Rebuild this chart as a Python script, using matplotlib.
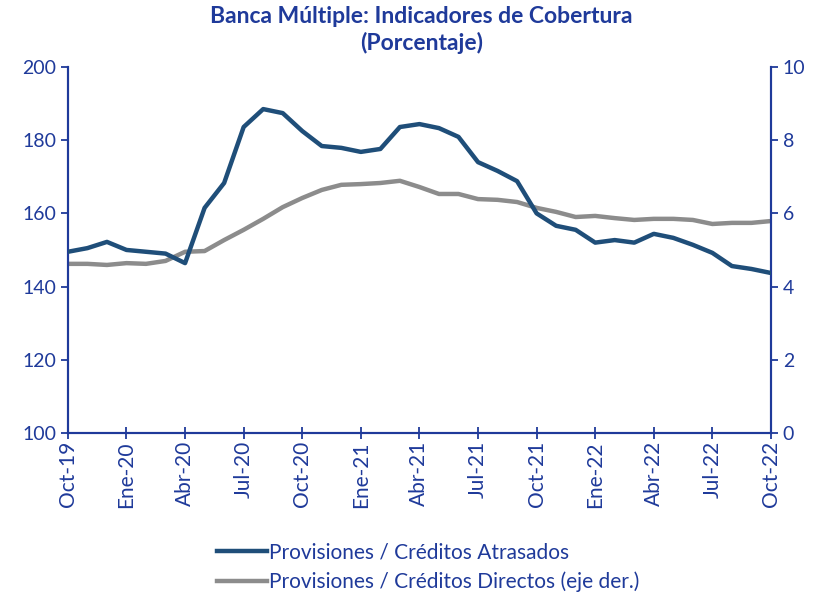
import numpy as np
import matplotlib.pyplot as plt

# monthly data Oct-19 .. Oct-22
months = ['Oct-19', 'Nov-19', 'Dic-19', 'Ene-20', 'Feb-20', 'Mar-20', 'Abr-20', 'May-20', 'Jun-20',
          'Jul-20', 'Ago-20', 'Sep-20', 'Oct-20', 'Nov-20', 'Dic-20', 'Ene-21', 'Feb-21', 'Mar-21',
          'Abr-21', 'May-21', 'Jun-21', 'Jul-21', 'Ago-21', 'Sep-21', 'Oct-21', 'Nov-21', 'Dic-21',
          'Ene-22', 'Feb-22', 'Mar-22', 'Abr-22', 'May-22', 'Jun-22', 'Jul-22', 'Ago-22', 'Sep-22',
          'Oct-22']
atrasados = [149.5, 150.5, 152.2, 150.0, 149.5, 149.0, 146.4, 161.5, 168.3, 183.6, 188.5, 187.4,
             182.5, 178.4, 177.9, 176.8, 177.6, 183.6, 184.4, 183.3, 180.9, 174.0, 171.6, 168.8,
             160.0, 156.6, 155.5, 152.0, 152.7, 152.0, 154.4, 153.3, 151.4, 149.2, 145.6, 144.8,
             143.7]
directos = [4.62, 4.62, 4.59, 4.64, 4.62, 4.70, 4.95, 4.97, 5.27, 5.55, 5.85, 6.17, 6.42, 6.64,
            6.78, 6.80, 6.83, 6.89, 6.72, 6.53, 6.53, 6.39, 6.37, 6.31, 6.15, 6.04, 5.90, 5.93,
            5.87, 5.82, 5.85, 5.85, 5.82, 5.71, 5.74, 5.74, 5.79]

blue_txt = '#1F3A9A'
c_blue = '#1F4E79'
c_gray = '#8C8C8C'
plt.rcParams['font.family'] = ['Lato', 'DejaVu Sans']

x = np.arange(len(months))
fig = plt.figure(figsize=(8.18, 5.93), dpi=100)
ax = fig.add_axes([0.083, 0.27, 0.8595, 0.617])
ax2 = ax.twinx()

l1, = ax.plot(x, atrasados, color=c_blue, lw=3.2, label='Provisiones / Créditos Atrasados', zorder=3)
l2, = ax2.plot(x, directos, color=c_gray, lw=3.2, label='Provisiones / Créditos Directos (eje der.)')
ax.set_zorder(ax2.get_zorder() + 1)
ax.patch.set_visible(False)

ax.set_xlim(0, len(months) - 1)
ax.set_ylim(100, 200)
ax2.set_ylim(0, 10)
ax.set_yticks(np.arange(100, 201, 20))
ax2.set_yticks(np.arange(0, 11, 2))
ax.set_xticks(x[::3])
ax.set_xticklabels(months[::3], rotation=90)

for a in (ax, ax2):
    for s in a.spines.values():
        s.set_color(blue_txt)
        s.set_linewidth(1.5)
    a.spines['top'].set_visible(False)
    a.tick_params(colors=blue_txt, labelsize=14, width=1.3, length=5)
ax.tick_params(axis='x', direction='inout', length=8, labelsize=15, pad=2)

fig.suptitle('Banca Múltiple: Indicadores de Cobertura\n(Porcentaje)', x=0.515, y=0.99,
             fontsize=16.5, fontweight='bold', color=blue_txt, linespacing=1.3)

leg = fig.legend(handles=[l1, l2], loc='lower center', bbox_to_anchor=(0.523, -0.03), ncol=1,
                 frameon=False, fontsize=15, handlelength=2.4, handletextpad=0.1,
                 labelspacing=0.45)
for t in leg.get_texts():
    t.set_color(blue_txt)

fig.savefig('out.png', dpi=100)
